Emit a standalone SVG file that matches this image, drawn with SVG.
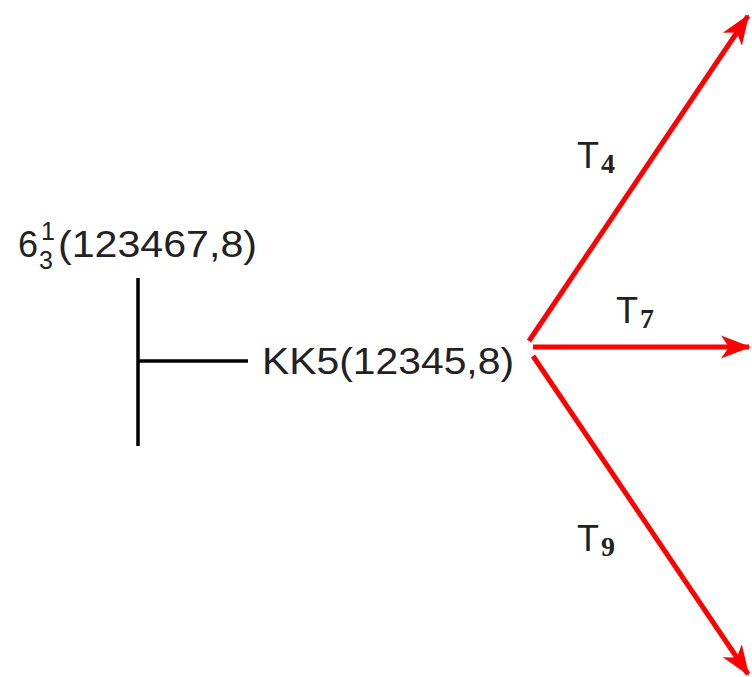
<svg xmlns="http://www.w3.org/2000/svg" width="752" height="677" viewBox="0 0 752 677">
<style>
.t{font-family:"Liberation Sans",Arial,sans-serif;font-size:36px;fill:#222}
.s{font-family:"Liberation Serif","DejaVu Serif",serif;font-weight:bold;font-size:28px;fill:#222}
.blk{stroke:#000;stroke-width:3.5;fill:none}
.red{stroke:#ff0000;stroke-width:5;fill:none}
</style>
<defs>
<marker id="ah" viewBox="0 0 30 24" refX="28" refY="12" markerWidth="30" markerHeight="24" markerUnits="userSpaceOnUse" orient="auto">
<path d="M0,0.5 L30,12 L0,23.5 L8,12 Z" fill="#ff0000"/>
</marker>
</defs>
<g id="node-6-3-1">
<text class="t" x="18" y="257">6</text>
<text class="t" x="39" y="269" style="font-size:25px">3</text>
<text class="t" x="41" y="240" style="font-size:25px">1</text>
<text class="t" x="58" y="257" textLength="199" lengthAdjust="spacingAndGlyphs">(123467,8)</text>
</g>
<g id="node-kk5">
<text class="t" x="262" y="374" textLength="252" lengthAdjust="spacingAndGlyphs">KK5(12345,8)</text>
</g>
<g id="label-t4"><text class="t" x="577" y="168">T</text><text class="s" x="601" y="173">4</text></g>
<g id="label-t7"><text class="t" x="616" y="323">T</text><text class="s" x="640" y="328">7</text></g>
<g id="label-t9"><text class="t" x="577" y="551">T</text><text class="s" x="601" y="556">9</text></g>
<g id="connectors">
<line class="blk" x1="138" y1="278" x2="138" y2="446"/>
<line class="blk" x1="138" y1="361" x2="248" y2="361"/>
<line class="red" x1="529" y1="341" x2="748" y2="16" marker-end="url(#ah)"/>
<line class="red" x1="533" y1="347" x2="749" y2="347" marker-end="url(#ah)"/>
<line class="red" x1="533" y1="356" x2="748" y2="674" marker-end="url(#ah)"/>
</g>
</svg>
